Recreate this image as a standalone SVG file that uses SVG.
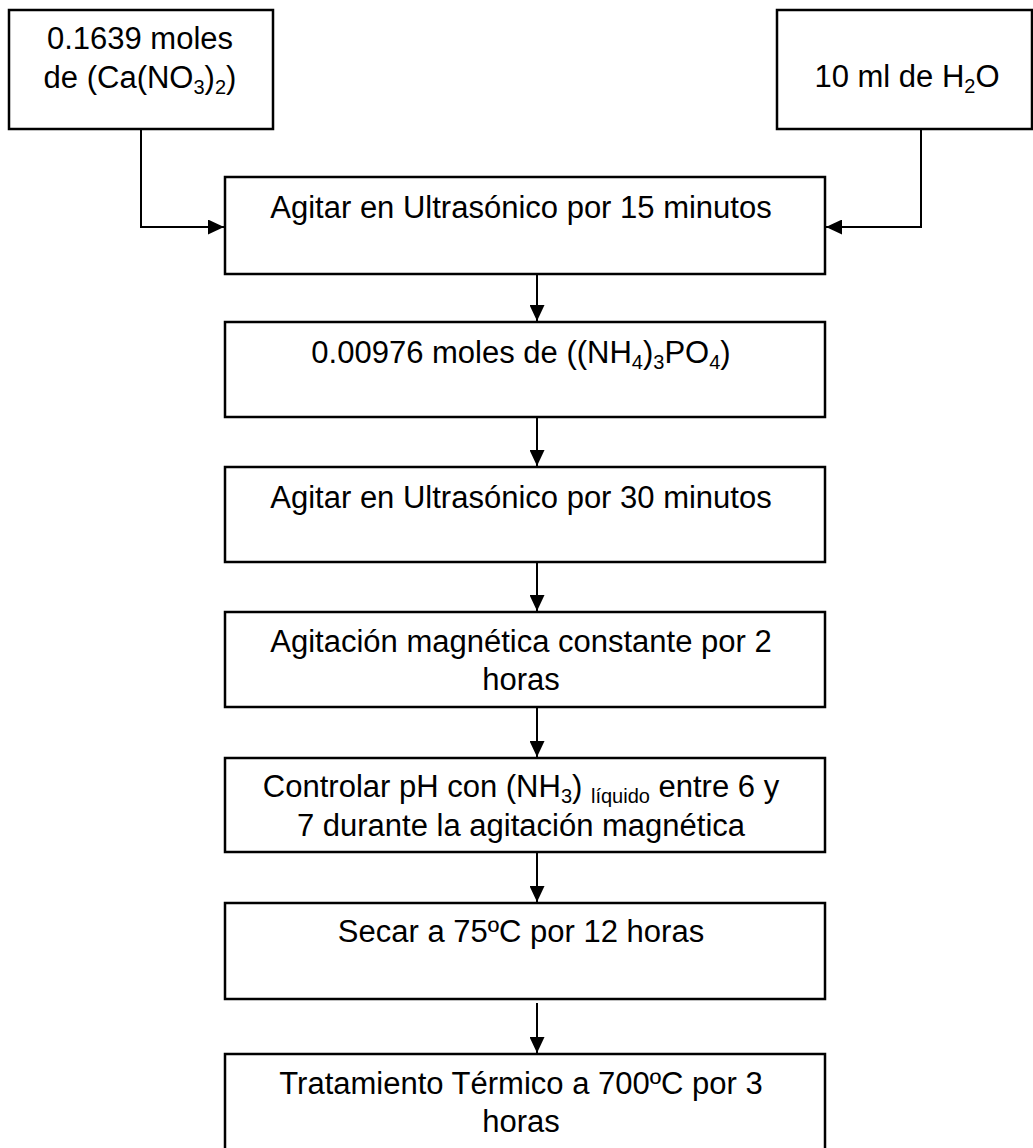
<svg xmlns="http://www.w3.org/2000/svg" width="1033" height="1148" viewBox="0 0 1033 1148">
<style>
.box{fill:#fff;stroke:#000;stroke-width:2.5}
.t{font-family:"Liberation Sans",Arial,sans-serif;font-size:31px;fill:#000;text-anchor:middle}
.s{font-size:20px}
.c{fill:none;stroke:#000;stroke-width:2}
</style>
<defs>
<marker id="ah" markerUnits="userSpaceOnUse" markerWidth="17" markerHeight="15" refX="16" refY="7.5" orient="auto">
<path d="M0,0 L16,7.5 L0,15 z" fill="#000"/>
</marker>
</defs>
<rect width="1033" height="1148" fill="#fff"/>
<g id="connectors">
<path class="c" d="M141,129 V227 H224" marker-end="url(#ah)"/>
<path class="c" d="M921,129 V227 H826" marker-end="url(#ah)"/>
<path class="c" d="M537,274 V321" marker-end="url(#ah)"/>
<path class="c" d="M537,417 V466" marker-end="url(#ah)"/>
<path class="c" d="M537,562 V611" marker-end="url(#ah)"/>
<path class="c" d="M537,707 V757" marker-end="url(#ah)"/>
<path class="c" d="M537,852 V902" marker-end="url(#ah)"/>
<path class="c" d="M537,1003 V1053" marker-end="url(#ah)"/>
</g>
<g id="n1">
<rect class="box" x="9" y="10" width="264" height="119"/>
<text class="t" x="140" y="49">0.1639 moles</text>
<text class="t" x="140" y="88">de (Ca(NO<tspan class="s" dy="6">3</tspan><tspan dy="-6">)</tspan><tspan class="s" dy="6">2</tspan><tspan dy="-6">)</tspan></text>
</g>
<g id="n2">
<rect class="box" x="777" y="10" width="255" height="119"/>
<text class="t" x="907" y="87">10 ml de H<tspan class="s" dy="6">2</tspan><tspan dy="-6">O</tspan></text>
</g>
<g id="b1">
<rect class="box" x="225" y="177" width="600" height="97"/>
<text class="t" x="521" y="218">Agitar en Ultrasónico por 15 minutos</text>
</g>
<g id="b2">
<rect class="box" x="225" y="322" width="600" height="95"/>
<text class="t" x="521" y="363">0.00976 moles de ((NH<tspan class="s" dy="6">4</tspan><tspan dy="-6">)</tspan><tspan class="s" dy="6">3</tspan><tspan dy="-6">PO</tspan><tspan class="s" dy="6">4</tspan><tspan dy="-6">)</tspan></text>
</g>
<g id="b3">
<rect class="box" x="225" y="467" width="600" height="95"/>
<text class="t" x="521" y="508">Agitar en Ultrasónico por 30 minutos</text>
</g>
<g id="b4">
<rect class="box" x="225" y="612" width="600" height="95"/>
<text class="t" x="521" y="652">Agitación magnética constante por 2</text>
<text class="t" x="521" y="690">horas</text>
</g>
<g id="b5">
<rect class="box" x="225" y="758" width="600" height="94"/>
<text class="t" x="521" y="797">Controlar pH con (NH<tspan class="s" dy="6">3</tspan><tspan dy="-6">) </tspan><tspan class="s" dy="6">líquido</tspan><tspan dy="-6"> entre 6 y</tspan></text>
<text class="t" x="521" y="836">7 durante la agitación magnética</text>
</g>
<g id="b6">
<rect class="box" x="225" y="903" width="600" height="96"/>
<text class="t" x="521" y="942">Secar a 75ºC por 12 horas</text>
</g>
<g id="b7">
<rect class="box" x="225" y="1054" width="600" height="100"/>
<text class="t" x="521" y="1094">Tratamiento Térmico a 700ºC por 3</text>
<text class="t" x="521" y="1132">horas</text>
</g>
</svg>
